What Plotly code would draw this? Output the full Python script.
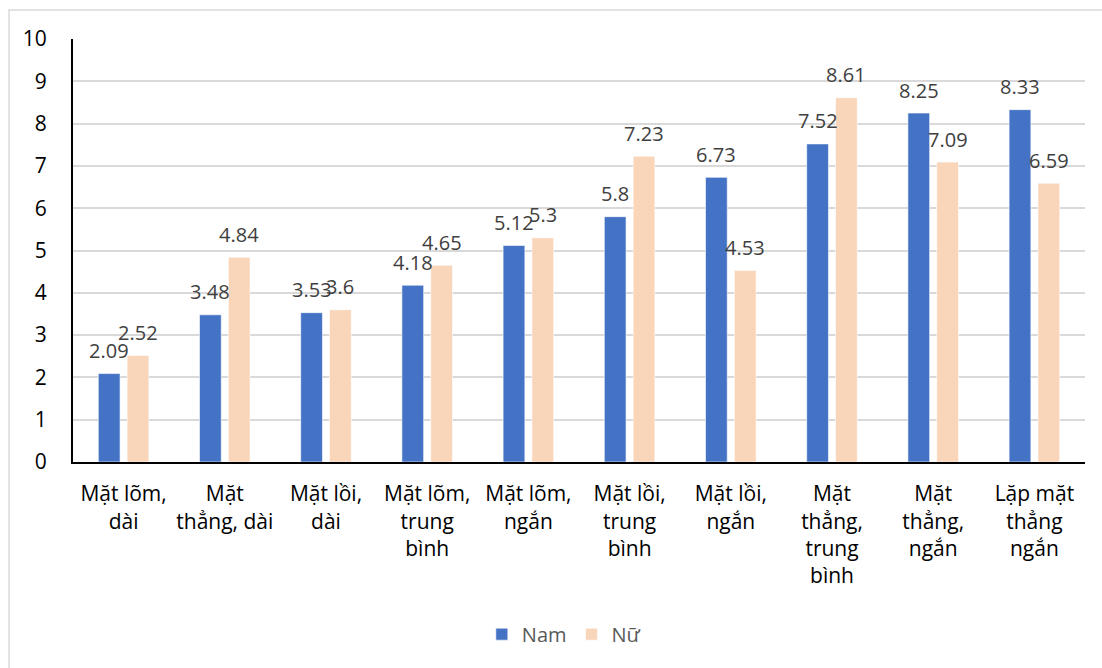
import plotly.graph_objects as go

categories = [
    "Mặt lõm,<br>dài",
    "Mặt<br>thẳng, dài",
    "Mặt lồi,<br>dài",
    "Mặt lõm,<br>trung<br>bình",
    "Mặt lõm,<br>ngắn",
    "Mặt lồi,<br>trung<br>bình",
    "Mặt lồi,<br>ngắn",
    "Mặt<br>thẳng,<br>trung<br>bình",
    "Mặt<br>thẳng,<br>ngắn",
    "Lặp mặt<br>thẳng<br>ngắn",
]
nam = [2.09, 3.48, 3.53, 4.18, 5.12, 5.80, 6.73, 7.52, 8.25, 8.33]
nu = [2.52, 4.84, 3.60, 4.65, 5.30, 7.23, 4.53, 8.61, 7.09, 6.59]
nam_labels = ["2.09", "3.48", "3.53", "4.18", "5.12", "5.8", "6.73", "7.52", "8.25", "8.33"]
nu_labels = ["2.52", "4.84", "3.6", "4.65", "5.3", "7.23", "4.53", "8.61", "7.09", "6.59"]

FONT = "'Open Sans', sans-serif"
FS = 21
BAR_W = 0.215
GAP = 0.07
idx = list(range(len(categories)))

fig = go.Figure()
fig.add_trace(go.Bar(
    name="Nam", x=idx, y=nam, width=BAR_W, offset=-(BAR_W + GAP / 2),
    marker=dict(color="#4472C4", line=dict(color="#FFFFFF", width=0.6)),
))
fig.add_trace(go.Bar(
    name="Nữ", x=idx, y=nu, width=BAR_W, offset=GAP / 2,
    marker=dict(color="#F9D5BA", line=dict(color="#FFFFFF", width=0.6)),
))

# value labels centred over each bar
annotations = []
for i in idx:
    for val, lab, cx in ((nam[i], nam_labels[i], i - GAP / 2 - BAR_W / 2),
                         (nu[i], nu_labels[i], i + GAP / 2 + BAR_W / 2)):
        annotations.append(dict(
            x=cx, y=val, xref="x", yref="y", text=lab, showarrow=False,
            yanchor="middle", xanchor="center", yshift=23,
            font=dict(family=FONT, size=FS - 1, color="#404040"),
        ))

fig.update_layout(
    width=1102, height=668,
    margin=dict(l=73, r=17, t=39, b=206),
    paper_bgcolor="white", plot_bgcolor="white",
    barmode="group", showlegend=True,
    legend=dict(
        orientation="h", x=0.485, xanchor="center", y=-0.407, yanchor="middle",
        font=dict(family=FONT, size=FS - 1, color="#595959"),
        itemwidth=30, traceorder="normal",
    ),
    annotations=annotations,
    shapes=[dict(
        type="rect", xref="paper", yref="paper",
        x0=-0.0632, x1=1.2, y0=-0.7, y1=1.0686,
        line=dict(color="#D9D9D9", width=1.5), layer="below",
    )],
)
fig.update_xaxes(
    tickmode="array", tickvals=idx, ticktext=categories,
    range=[-0.5, len(categories) - 0.5],
    showline=True, linecolor="black", linewidth=2,
    showgrid=False, ticks="", ticklabelstandoff=12,
    tickfont=dict(family=FONT, size=FS, color="black"),
)
fig.update_yaxes(
    range=[0, 10], dtick=1, tick0=0,
    showline=True, linecolor="black", linewidth=2,
    showgrid=True, gridcolor="#D9D9D9", gridwidth=1.5,
    zeroline=False, ticks="", ticklabelstandoff=20,
    tickfont=dict(family=FONT, size=FS, color="black"),
)

fig.write_html("out.html")
